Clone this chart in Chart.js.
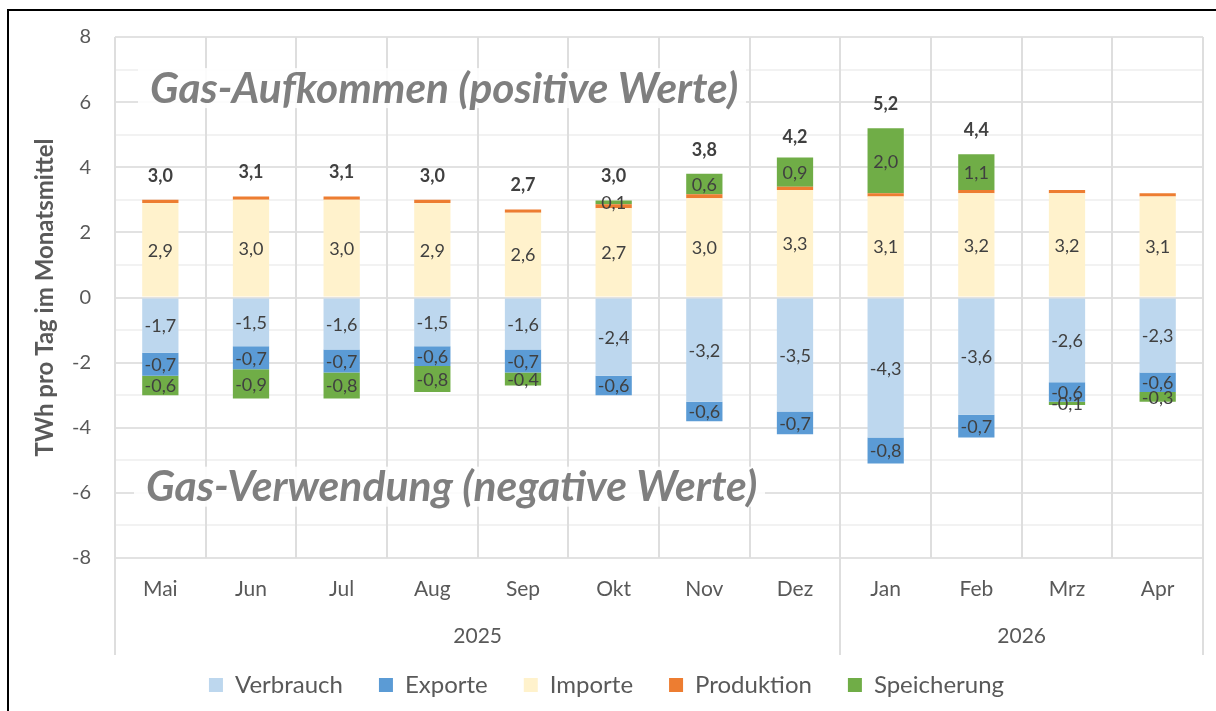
<!DOCTYPE html>
<html><head><meta charset="utf-8">
<script src="https://cdn.jsdelivr.net/npm/chart.js@4/dist/chart.umd.min.js"></script>
<style>html,body{margin:0;padding:0;background:#fff;}#wrap{width:1216px;height:711px;}</style>
</head><body><div id="wrap"><canvas id="c" width="1216" height="711"></canvas></div>
<script>
const monate = ['Mai','Jun','Jul','Aug','Sep','Okt','Nov','Dez','Jan','Feb','Mrz','Apr'];
const jahre = ['2025','2026'];
const jahrStart = [0, 8];
const verbrauch = [-1.7,-1.5,-1.6,-1.5,-1.6,-2.4,-3.2,-3.5,-4.3,-3.6,-2.6,-2.3];
const exporte = [-0.7,-0.7,-0.7,-0.6,-0.7,-0.6,-0.6,-0.7,-0.8,-0.7,-0.6,-0.6];
const importe = [2.9,3.0,3.0,2.9,2.6,2.74,3.05,3.3,3.1,3.2,3.2,3.1];
const produktion = [0.1,0.1,0.1,0.1,0.1,0.12,0.12,0.1,0.1,0.1,0.1,0.1];
const speicherung = [-0.6,-0.9,-0.8,-0.8,-0.4,0.12,0.63,0.9,2.0,1.1,-0.1,-0.3];
const aufkommenGesamt = [3.0,3.1,3.1,3.0,2.7,3.0,3.8,4.2,5.2,4.4,null,null];
const yTicks = [-8,-6,-4,-2,0,2,4,6,8];

const FONT = 'Lato, "Open Sans", sans-serif';
const GRAY = '#595959';
const fmt = v => v.toFixed(1).replace('.', ',');
const LEG_PAD = 36;

const overlayPlugin = {
  id: 'overlay',
  beforeDraw(chart) {
    const ctx = chart.ctx;
    ctx.save();
    ctx.fillStyle = '#fff';
    ctx.fillRect(0, 0, chart.width, chart.height);
    ctx.restore();
  },
  beforeDatasetsDraw(chart) {
    const {ctx, chartArea: a, scales: {x, y}} = chart;
    ctx.save();
    const half = (x.getPixelForValue(1) - x.getPixelForValue(0)) / 2;
    ctx.strokeStyle = '#dedede';
    ctx.lineWidth = 2;
    for (let i = 0; i <= monate.length; i++) {
      const px = Math.round(x.getPixelForValue(i) - half);
      const ext = (i === 0 || i === monate.length || jahrStart.includes(i));
      ctx.beginPath();
      ctx.moveTo(px, a.top);
      ctx.lineTo(px, ext ? a.bottom + 97 : a.bottom);
      ctx.stroke();
    }
    const texts = [
      {t: 'Gas-Aufkommen (positive Werte)', v: 6.43, w: 588, left: 35},
      {t: 'Gas-Verwendung (negative Werte)', v: -5.81, w: 611, left: 31}
    ];
    texts.forEach(o => {
      ctx.font = 'italic bold 36px ' + FONT;
      const m = ctx.measureText(o.t).width;
      const size = 36 * o.w / m;
      ctx.font = 'italic bold ' + size.toFixed(1) + 'px ' + FONT;
      const py = y.getPixelForValue(o.v);
      const lx = a.left + o.left;
      ctx.fillStyle = 'rgba(255,255,255,0.88)';
      ctx.fillRect(lx - 12, py - 20, o.w + 20, 40);
      ctx.fillStyle = '#7f7f7f';
      ctx.textBaseline = 'middle';
      ctx.textAlign = 'left';
      ctx.fillText(o.t, lx, py + 1);
    });
    ctx.restore();
  },
  afterDatasetsDraw(chart) {
    const {ctx, scales: {x, y}} = chart;
    ctx.save();
    ctx.textAlign = 'center';
    ctx.textBaseline = 'middle';
    ctx.fillStyle = '#404040';
    ctx.font = '18px ' + FONT;
    chart.data.datasets.forEach((ds, di) => {
      if (ds.noLabel) return;
      const meta = chart.getDatasetMeta(di);
      meta.data.forEach((bar, i) => {
        const v = ds.data[i];
        if (v === null || v === 0) return;
        const cy = (bar.y + bar.base) / 2;
        ctx.fillText(fmt(v), bar.x, cy + 1);
      });
    });
    ctx.font = 'bold 18px ' + FONT;
    aufkommenGesamt.forEach((v, i) => {
      if (v === null) return;
      ctx.fillText(fmt(v), x.getPixelForValue(i), y.getPixelForValue(v) - 24);
    });
    ctx.fillStyle = GRAY;
    ctx.font = '21px ' + FONT;
    jahre.forEach((j, k) => {
      const s = jahrStart[k];
      const e = (k + 1 < jahrStart.length ? jahrStart[k + 1] : monate.length) - 1;
      const cx = (x.getPixelForValue(s) + x.getPixelForValue(e)) / 2;
      ctx.fillText(j, cx, chart.chartArea.bottom + 78);
    });
    ctx.strokeStyle = '#000';
    ctx.lineWidth = 2;
    ctx.beginPath();
    ctx.moveTo(8, 711);
    ctx.lineTo(8, 10);
    ctx.lineTo(1216, 10);
    ctx.stroke();
    ctx.restore();
  }
};

const ds = (label, data, color, extra) => Object.assign({
  label, data, backgroundColor: color, borderWidth: 0,
  barPercentage: 0.4, categoryPercentage: 1.0
}, extra || {});

new Chart(document.getElementById('c'), {
  type: 'bar',
  data: {
    labels: monate,
    datasets: [
      ds('Verbrauch', verbrauch, '#bdd7ee'),
      ds('Exporte', exporte, '#5b9bd5'),
      ds('Importe', importe, '#fff2cc'),
      ds('Produktion', produktion, '#ed7d31', {noLabel: true}),
      ds('Speicherung', speicherung, '#70ad47')
    ]
  },
  plugins: [overlayPlugin],
  options: {
    responsive: false,
    animation: false,
    layout: {padding: {left: 10, right: 13, top: 37, bottom: 4}},
    plugins: {
      tooltip: {enabled: false},
      legend: {
        position: 'bottom',
        labels: {
          boxWidth: 14, boxHeight: 14, padding: LEG_PAD,
          color: GRAY, font: {family: FONT, size: 24}
        }
      }
    },
    scales: {
      x: {
        stacked: true,
        grid: {display: false},
        border: {display: false},
        ticks: {color: GRAY, font: {family: FONT, size: 21}, padding: 11, maxRotation: 0},
        afterFit(scale) { scale.height = 115 - LEG_PAD; }
      },
      y: {
        stacked: true,
        min: -8, max: 8,
        afterBuildTicks(scale) {
          const t = [];
          for (let v = -8; v <= 8; v++) t.push({value: v});
          scale.ticks = t;
        },
        border: {display: false},
        grid: {
          drawTicks: false,
          lineWidth: 2,
          color: c => (c.tick && Math.abs(c.tick.value) % 2 === 0) ? '#e2e2e2' : '#f2f2f2'
        },
        ticks: {
          color: GRAY, font: {family: FONT, size: 20}, padding: 24,
          callback: v => yTicks.includes(v) ? String(v) : ''
        },
        title: {
          display: true, text: 'TWh pro Tag im Monatsmittel', color: GRAY,
          font: {family: FONT, size: 24, weight: 'bold'}, padding: {top: 21}
        },
        afterFit(scale) { scale.width = 105; }
      }
    }
  }
});
</script></body></html>
